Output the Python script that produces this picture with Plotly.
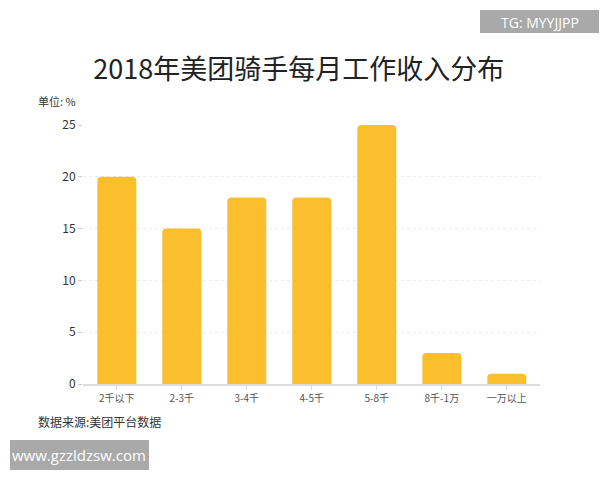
import plotly.graph_objects as go

categories = ["2千以下", "2-3千", "3-4千", "4-5千", "5-8千", "8千-1万", "一万以上"]
shares = [20, 15, 18, 18, 25, 3, 1]
y_ticks = [0, 5, 10, 15, 20, 25]

FONT = "Noto Sans CJK SC"

fig = go.Figure()
fig.add_trace(go.Bar(
    x=categories, y=shares,
    marker=dict(color="#FBBF2E", line=dict(width=0), cornerradius=4),
    width=0.6,
    hoverinfo="x+y",
))

fig.update_layout(
    width=600, height=480,
    margin=dict(l=83, r=60, t=125, b=96),
    paper_bgcolor="white", plot_bgcolor="white",
    showlegend=False,
    font=dict(family=FONT, color="#333"),
    title=dict(text="2018年美团骑手每月工作收入分布", x=0.498, xanchor="center",
               y=1 - 70 / 480, yanchor="middle",
               font=dict(family=FONT, size=27, color="#222")),
)

fig.update_xaxes(
    type="category", range=[-0.52, 6.51],
    showline=True, linecolor="#dddddd", linewidth=2,
    ticks="outside", ticklen=4, tickcolor="#dddddd",
    tickfont=dict(size=10, color="#555"),
    showgrid=False, zeroline=False,
)
fig.update_yaxes(
    range=[0, 25], tickvals=y_ticks,
    showgrid=True, gridcolor="#ececec", griddash="dot", gridwidth=1,
    ticks="outside", ticklen=4, tickcolor="#cccccc",
    tickfont=dict(size=12, color="#333"),
    zeroline=False, showline=False,
)

fig.add_annotation(text="单位: %", xref="paper", yref="paper",
                   x=-(83 - 36) / 457, xanchor="left",
                   y=1 + (125 - 101) / 259, yanchor="middle",
                   showarrow=False, font=dict(size=11, color="#333"))
fig.add_annotation(text="数据来源:美团平台数据", xref="paper", yref="paper",
                   x=-(83 - 36) / 457, xanchor="left",
                   y=-(421 - 384) / 259, yanchor="middle",
                   showarrow=False, font=dict(size=12, color="#333"))

# watermark boxes
fig.add_shape(type="rect", xref="paper", yref="paper",
              x0=(480 - 83) / 457, x1=(599 - 83) / 457,
              y0=1 + (125 - 33) / 259, y1=1 + (125 - 10) / 259,
              fillcolor="#a9a9a9", line=dict(width=0), layer="above")
fig.add_annotation(text="TG: MYYJJPP", xref="paper", yref="paper",
                   x=(540 - 83) / 457, xanchor="center",
                   y=1 + (125 - 22) / 259, yanchor="middle",
                   showarrow=False, font=dict(family="Open Sans", size=14, color="white"))
fig.add_shape(type="rect", xref="paper", yref="paper",
              x0=(10 - 83) / 457, x1=(149 - 83) / 457,
              y0=-(470 - 384) / 259, y1=-(440 - 384) / 259,
              fillcolor="#a9a9a9", line=dict(width=0), layer="above")
fig.add_annotation(text="www.gzzldzsw.com", xref="paper", yref="paper",
                   x=(79 - 83) / 457, xanchor="center",
                   y=-(455 - 384) / 259, yanchor="middle",
                   showarrow=False, font=dict(family="Open Sans", size=15, color="white"))

fig.write_html("out.html", config={"displayModeBar": False},
               post_script="document.body.style.margin='0';document.body.style.padding='0';")
